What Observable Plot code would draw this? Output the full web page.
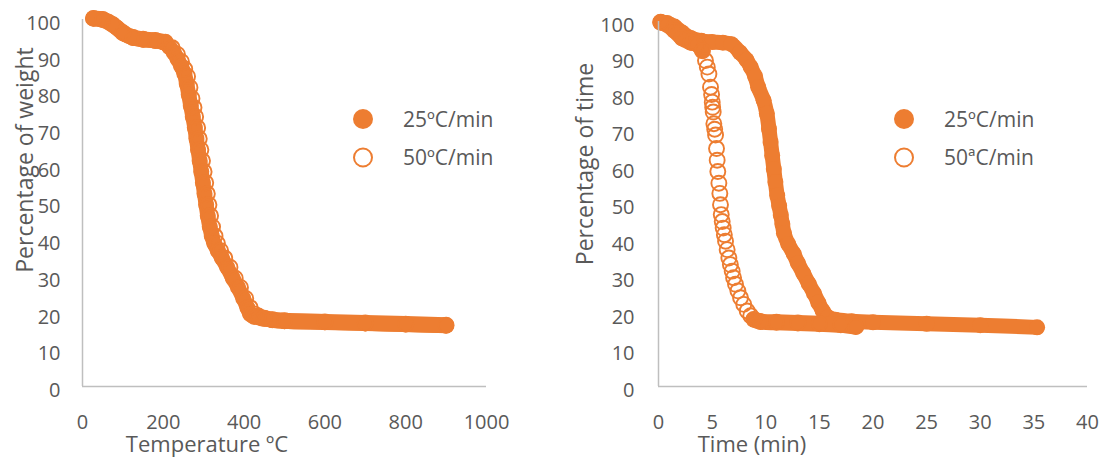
<!DOCTYPE html>
<html><head><meta charset="utf-8">
<script src="https://cdn.jsdelivr.net/npm/d3@7"></script>
<script src="https://cdn.jsdelivr.net/npm/@observablehq/plot@0.6"></script>
<style>
body{margin:0;background:#fff;}
#wrap{position:relative;width:1106px;height:457px;overflow:hidden;font-family:"Open Sans",sans-serif;}
#wrap > svg{position:absolute;top:0;}
</style></head><body><div id="wrap"></div>
<script>
// ---------- data ----------
const yTicks = [0,10,20,30,40,50,60,70,80,90,100];
const tempTicks = [0,200,400,600,800,1000];
const timeTicks = [0,5,10,15,20,25,30,35,40];
const legendTemp = ["25ºC/min","50ºC/min"];
const legendTime = ["25ºC/min","50ªC/min"];
const titleTempX = "Temperature ºC", titleTempY = "Percentage of weight";
const titleTimeX = "Time (min)", titleTimeY = "Percentage of time";

// Left panel: temperature (ºC) vs weight (%)
const temp25 = [27,45,65,85,105,125,150,180,200,215,226,235,244,252,258,263,268,273,278,282,286,290,294,298,302,306,310,315,320,326,335,345,358,372,385,398,408,415,425,445,470,500,600,700,800,900];
const weight25 = [100.3,100.1,99.3,97.8,96.0,95.0,94.5,94.2,93.8,92.5,91,89.3,87.3,85.3,82.5,79.5,76.5,73.5,70.5,67.5,64.5,61.5,58.5,55.5,52.5,49.5,46.5,43.5,41,39,37,35,32.5,29.5,27,24,21.5,19.7,19,18.5,18.1,17.8,17.5,17.2,16.9,16.6];
const temp50 = [27,50,75,100,125,150,180,205,222,235,245,253,260,266,271,276,280,285,289,293,297,301,305,309,313,317,322,328,334,342,352,365,378,391,404,415,425,435,450,470,500,600,700,800,900];
const weight50 = [100.3,100,98.6,96.4,95.1,94.6,94.3,93.8,92.3,90.5,88.5,86.5,84.5,81.5,78.5,76,73.5,70.5,67.5,64.5,61.5,58.5,55.5,52.5,49.5,46.5,43.5,41,39,37,35,32.5,29.5,27,24,21.5,19.8,19.2,18.6,18.2,17.9,17.6,17.3,17.0,16.7];

// Right panel: time (min) vs percentage
const time25 = [0.2,0.8,1.5,2.2,3,4,5,6,6.8,7.6,8.2,8.6,9.0,9.3,9.8,10.1,10.3,10.45,10.6,10.75,10.9,11.07,11.25,11.4,11.55,11.7,12.1,12.6,13.0,13.5,14.0,14.5,14.9,15.3,15.8,16.5,18,20,25,30,35.3];
const pct25 = [99.8,99.6,98.6,97,95.5,94.7,94.4,94.2,93.8,91.5,89.5,87.5,85,82,78.4,74.8,70.6,67,63.3,59.6,56,52.3,49.5,47,44.5,42,39,36.4,33.8,31,28.2,25.5,23,20.8,19,18.3,17.9,17.6,17.2,16.8,16.2];
const time50 = [0.2,0.8,1.5,2.2,3,3.6,4.1,4.38,4.55,4.7,4.85,4.95,5.01,5.05,5.1,5.16,5.24,5.32,5.41,5.47,5.53,5.63,5.72,5.78,5.85,5.94,6.03,6.14,6.25,6.4,6.56,6.7,6.87,7.0,7.18,7.4,7.65,7.95,8.27,8.6,8.89,9.5,11,13,15,17,18.4];
const pct50 = [99.8,99.2,97.5,95.5,94.3,93.8,92,89.3,87.5,85.6,82,80,77.9,76.5,75.2,72,70.5,68.9,65.2,62,58.9,55.7,52.9,49.8,47.1,45.2,43.4,41.6,39.8,37.5,35.2,33.4,31.6,29.8,28,26.2,24.3,22.5,20.7,19.4,18.4,17.8,17.6,17.4,17.2,16.9,16.4];

// ---------- styling ----------
const ORANGE = "#ED7D31", TEXT = "#595959", AXIS = "#BFBFBF";
const W = 553, H = 457;
const zip = (xs, ys) => xs.map((x, i) => ({x, y: ys[i]}));

function panel({filled, open, xDomain, xTicks, marginLeft, marginRight, marginTop, padY, solidA, solidB}) {
  const band = {x: "x", y: "y", stroke: ORANGE, strokeLinecap: "round", strokeLinejoin: "round", curve: "catmull-rom"};
  return Plot.plot({
    width: W, height: H, marginLeft, marginRight, marginTop, marginBottom: 71,
    style: {fontFamily: "'Open Sans', sans-serif", fontSize: "20px", color: TEXT, background: "transparent", overflow: "visible"},
    x: {domain: xDomain}, y: {domain: [0, 100]},
    marks: [
      Plot.axisX({ticks: xTicks, tickSize: 0, tickPadding: 28, label: null, tickFormat: d3.format("d")}),
      Plot.axisY({ticks: yTicks, tickSize: 0, tickPadding: padY, label: null, dy: 4}),
      Plot.line(filled, {...band, strokeWidth: 15}),
      Plot.dot(filled, {x: "x", y: "y", r: 8, fill: ORANGE, stroke: null}),
      Plot.line(open, {...band, strokeWidth: 16, filter: solidA}),
      Plot.line(open, {...band, strokeWidth: 16, filter: solidB}),
      Plot.dot(open, {x: "x", y: "y", r: 7.5, fill: "none", stroke: ORANGE, strokeWidth: 1.9}),
      Plot.ruleY([0], {stroke: AXIS, strokeWidth: 1.5}),
      Plot.ruleX([0], {stroke: AXIS, strokeWidth: 1.5})
    ]
  });
}

const wrap = document.getElementById("wrap");
const left = panel({
  filled: zip(temp25, weight25), open: zip(temp50, weight50),
  xDomain: [0, 1000], xTicks: tempTicks, marginLeft: 82, marginRight: 67, marginTop: 19, padY: 22,
  solidA: d => d.x <= 205, solidB: d => d.x >= 435
});
left.style.left = "0px";
wrap.appendChild(left);
const right = panel({
  filled: zip(time25, pct25), open: zip(time50, pct50),
  xDomain: [0, 40], xTicks: timeTicks, marginLeft: 105, marginRight: 19, marginTop: 21, padY: 24,
  solidA: d => d.x <= 4.1, solidB: d => d.x >= 8.89
});
right.style.left = W + "px";
wrap.appendChild(right);

// ---------- titles and legends (overlay) ----------
const ov = d3.select(wrap).append("svg").attr("width", 1106).attr("height", 457)
  .style("left", "0px").style("font-family", "'Open Sans', sans-serif").attr("fill", TEXT);
ov.append("text").attr("x", 207).attr("y", 452).attr("text-anchor", "middle").attr("font-size", 22).text(titleTempX);
ov.append("text").attr("x", 752).attr("y", 452).attr("text-anchor", "middle").attr("font-size", 22).text(titleTimeX);
ov.append("text").attr("transform", "translate(33,160) rotate(-90)").attr("text-anchor", "middle").attr("font-size", 23).text(titleTempY);
ov.append("text").attr("transform", "translate(593,164) rotate(-90)").attr("text-anchor", "middle").attr("font-size", 23).text(titleTimeY);

function legend(cx, names) {
  const g = ov.append("g");
  names.forEach((name, i) => {
    const cy = 119 + i * 38.5;
    g.append("circle").attr("cx", cx).attr("cy", cy).attr("r", i === 0 ? 10 : 9)
      .attr("fill", i === 0 ? ORANGE : "none").attr("stroke", i === 0 ? "none" : ORANGE).attr("stroke-width", 2);
    g.append("text").attr("x", cx + 40).attr("y", cy + 7.5).attr("font-size", 21).text(name);
  });
}
legend(363, legendTemp);
legend(904, legendTime);
</script></body></html>
